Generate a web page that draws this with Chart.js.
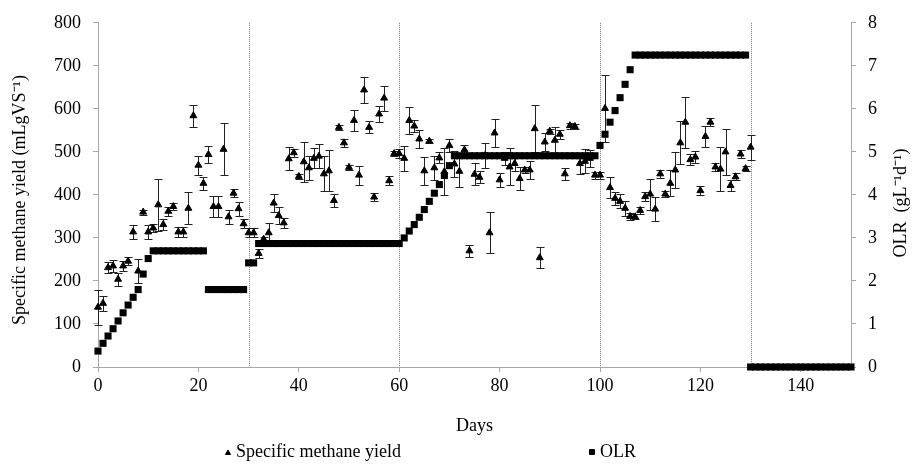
<!DOCTYPE html>
<html>
<head>
<meta charset="utf-8">
<script src="https://cdn.jsdelivr.net/npm/chart.js@4.4.0/dist/chart.umd.min.js"></script>
<style>
  html, body { margin: 0; padding: 0; background: #fff; }
  #contenedor { width: 913px; height: 467px; }
</style>
</head>
<body>
<div id="contenedor"><canvas id="graficoMetano"></canvas></div>
<script>
// Días de medición del rendimiento de metano
const diasMetano = [
  0,1,2,3,4,5,6,7,8,9,10,11,12,13,14,15,16,17,18,19,20,21,22,23,24,25,26,27,28,29,
  30,31,32,33,34,35,36,37,38,39,40,41,42,43,44,45,46,47,48,49,50,51,52,53,54,55,56,57,58,59,
  60,61,62,63,64,65,66,67,68,69,70,71,72,73,74,75,76,77,78,79,80,81,82,83,84,85,86,87,88,89,
  90,91,92,93,94,95,96,97,98,99,100,101,102,103,104,105,106,107,108,109,110,111,112,113,114,
  115,116,117,118,119,120,121,122,123,124,125,126,127,128,129,130
];
// Rendimiento específico de metano (mL/gVS)
const metano = [
  139,148,231,235,204,235,246,314,223,360,
  314,323,377,331,362,373,314,314,369,584,
  469,427,494,373,373,506,349,404,368,333,
  312,312,264,297,312,381,352,335,484,498,
  443,477,463,485,490,449,456,387,557,521,
  464,573,446,644,557,395,588,625,433,496,
  496,485,573,560,530,456,525,463,486,454,
  515,472,455,505,270,448,441,491,312,544,
  435,485,465,473,438,458,458,554,254,523,
  548,527,541,449,561,559,473,478,485,446,
  446,601,417,392,385,369,350,349,364,396,
  402,367,449,402,427,458,521,569,482,488,
  410,536,569,465,460,500,422,442,495,461,
  511
];
// Desvío (+/-) de cada punto
const errorMetano = [
  41,18,13,14,15,12,10,17,27,6,
  16,10,60,13,10,8,12,12,37,26,
  22,15,20,24,24,60,16,10,16,10,
  11,10,11,5,22,21,19,12,27,9,
  6,46,28,23,28,41,48,15,6,10,
  6,25,22,31,14,10,18,29,11,5,
  10,29,31,13,20,32,5,28,13,55,
  16,31,36,10,14,25,14,29,48,32,
  16,15,43,17,26,6,20,55,24,22,
  6,30,10,14,7,6,25,28,20,8,
  8,78,25,15,16,17,8,6,8,11,
  36,28,10,8,30,42,50,59,13,14,
  10,24,9,10,51,54,13,8,10,6,
  29
];
// Días de la carga orgánica
const diasOLR = [
  0,1,2,3,4,5,6,7,8,9,10,11,12,13,14,15,16,17,18,19,20,21,22,23,24,25,26,27,28,29,
  30,31,32,33,34,35,36,37,38,39,40,41,42,43,44,45,46,47,48,49,50,51,52,53,54,55,56,57,58,59,
  60,61,62,63,64,65,66,67,68,69,70,71,72,73,74,75,76,77,78,79,80,81,82,83,84,85,86,87,88,89,
  90,91,92,93,94,95,96,97,98,99,100,101,102,103,104,105,106,107,108,109,110,111,112,113,114,
  115,116,117,118,119,120,121,122,123,124,125,126,127,128,129,130,131,132,133,134,135,136,137,
  138,139,140,141,142,143,144,145,146,147,148,149,150
];
// OLR (g/L/d)
const olr = [
  0.37,0.55,0.72,0.89,1.07,1.26,1.44,1.62,1.80,2.16,
  2.52,2.70,2.70,2.70,2.70,2.70,2.70,2.70,2.70,2.70,
  2.70,2.70,1.80,1.80,1.80,1.80,1.80,1.80,1.80,1.80,
  2.42,2.42,2.87,2.87,2.87,2.87,2.87,2.87,2.87,2.87,
  2.87,2.87,2.87,2.87,2.87,2.87,2.87,2.87,2.87,2.87,
  2.87,2.87,2.87,2.87,2.87,2.87,2.87,2.87,2.87,2.87,
  2.87,3.00,3.16,3.31,3.48,3.66,3.85,4.04,4.24,4.45,
  4.68,4.91,4.91,4.91,4.91,4.91,4.91,4.91,4.91,4.91,
  4.91,4.91,4.91,4.91,4.91,4.91,4.91,4.91,4.91,4.91,
  4.91,4.91,4.91,4.91,4.91,4.91,4.91,4.91,4.91,4.91,
  5.15,5.41,5.69,5.96,6.26,6.57,6.91,7.25,7.25,7.25,
  7.25,7.25,7.25,7.25,7.25,7.25,7.25,7.25,7.25,7.25,
  7.25,7.25,7.25,7.25,7.25,7.25,7.25,7.25,7.25,7.25,
  0,0,0,0,0,0,0,0,0,0,
  0,0,0,0,0,0,0,0,0,0,
  0
];
// Cambios de fase (líneas punteadas)
const diasFase = [30, 60, 100, 130];

const fuente = "'Liberation Serif', 'Times New Roman', serif";
const gris = '#a6a6a6';

// Líneas de fase, barras de error, títulos de ejes y leyenda
const extras = {
  id: 'extras',
  beforeDatasetsDraw(chart) {
    const { ctx, chartArea, scales } = chart;
    ctx.save();
    ctx.strokeStyle = '#777';
    ctx.lineWidth = 1;
    ctx.setLineDash([1, 1]);
    diasFase.forEach(d => {
      const x = Math.round(scales.x.getPixelForValue(d)) + 0.5;
      ctx.beginPath();
      ctx.moveTo(x, chartArea.top);
      ctx.lineTo(x, chartArea.bottom);
      ctx.stroke();
    });
    ctx.setLineDash([]);
    ctx.strokeStyle = '#222';
    diasMetano.forEach((d, i) => {
      const x = Math.round(scales.x.getPixelForValue(d)) + 0.5;
      const yArr = Math.round(scales.y.getPixelForValue(metano[i] + errorMetano[i])) + 0.5;
      const yAba = Math.round(scales.y.getPixelForValue(metano[i] - errorMetano[i])) + 0.5;
      ctx.beginPath();
      ctx.moveTo(x, yArr); ctx.lineTo(x, yAba);
      ctx.moveTo(x - 4, yArr); ctx.lineTo(x + 4, yArr);
      ctx.moveTo(x - 4, yAba); ctx.lineTo(x + 4, yAba);
      ctx.stroke();
    });
    ctx.restore();
  },
  afterDraw(chart) {
    const { ctx } = chart;
    ctx.save();
    ctx.fillStyle = '#000';
    ctx.font = '18px ' + fuente;
    ctx.textAlign = 'center';
    ctx.textBaseline = 'middle';
    // título eje izquierdo
    ctx.save();
    ctx.translate(20, 200);
    ctx.rotate(-Math.PI / 2);
    ctx.fillText('Specific methane yield (mLgVS\u207B\u00B9)', 0, 0);
    ctx.restore();
    // título eje derecho
    ctx.save();
    ctx.translate(901, 203);
    ctx.rotate(-Math.PI / 2);
    ctx.fillText('OLR  (gL\u207B\u00B9d\u207B\u00B9)', 0, 0);
    ctx.restore();
    ctx.restore();

    // leyenda
    ctx.save();
    ctx.fillStyle = '#000';
    ctx.strokeStyle = '#000';
    Chart.helpers.drawPoint(ctx, { pointStyle: 'triangle', radius: 3, borderWidth: 1, rotation: 0 }, 228, 453);
    Chart.helpers.drawPoint(ctx, { pointStyle: 'rect', radius: 3.5, borderWidth: 1, rotation: 0 }, 592, 452);
    ctx.font = '18px ' + fuente;
    ctx.textAlign = 'left';
    ctx.textBaseline = 'middle';
    ctx.fillText('Specific methane yield', 236, 452);
    ctx.fillText('OLR', 600, 452);
    ctx.restore();
  }
};

const ctx = document.getElementById('graficoMetano').getContext('2d');
new Chart(ctx, {
  type: 'scatter',
  data: {
    datasets: [{
      label: 'Specific methane yield',
      data: diasMetano.map((d, i) => ({ x: d, y: metano[i] })),
      yAxisID: 'y',
      pointStyle: 'triangle',
      pointRadius: 4,
      backgroundColor: '#000',
      borderColor: '#000',
      borderWidth: 1,
      order: 1,
      clip: false
    }, {
      label: 'OLR',
      data: diasOLR.map((d, i) => ({ x: d, y: olr[i] })),
      yAxisID: 'y1',
      pointStyle: 'rect',
      pointRadius: 5,
      backgroundColor: '#000',
      borderColor: '#000',
      borderWidth: 0,
      order: 0,
      clip: false
    }]
  },
  options: {
    responsive: true,
    maintainAspectRatio: false,
    animation: false,
    events: [],
    layout: { padding: { top: 20, bottom: 30, left: 0, right: 0 } },
    plugins: {
      legend: { display: false },
      tooltip: { enabled: false }
    },
    scales: {
      x: {
        type: 'linear',
        min: 0, max: 150,
        ticks: { stepSize: 20, includeBounds: false, color: '#000', padding: 3, font: { family: fuente, size: 18 } },
        grid: { drawOnChartArea: false, tickLength: 5, color: gris },
        border: { color: gris },
        title: { display: true, text: 'Days', color: '#000', padding: { top: 0, bottom: 0 }, font: { family: fuente, size: 18 } },
        afterFit: s => { s.height = 70; }
      },
      y: {
        position: 'left',
        min: 0, max: 800,
        ticks: { stepSize: 100, color: '#000', padding: 12, font: { family: fuente, size: 18 } },
        grid: { drawOnChartArea: false, tickLength: 5, color: gris },
        border: { color: gris },
        afterFit: s => { s.width = 98; }
      },
      y1: {
        position: 'right',
        min: 0, max: 8,
        ticks: { stepSize: 1, color: '#000', padding: 12, font: { family: fuente, size: 18 } },
        grid: { drawOnChartArea: false, tickLength: 5, color: gris },
        border: { color: gris },
        afterFit: s => { s.width = 62; }
      }
    }
  },
  plugins: [extras]
});
</script>
</body>
</html>
